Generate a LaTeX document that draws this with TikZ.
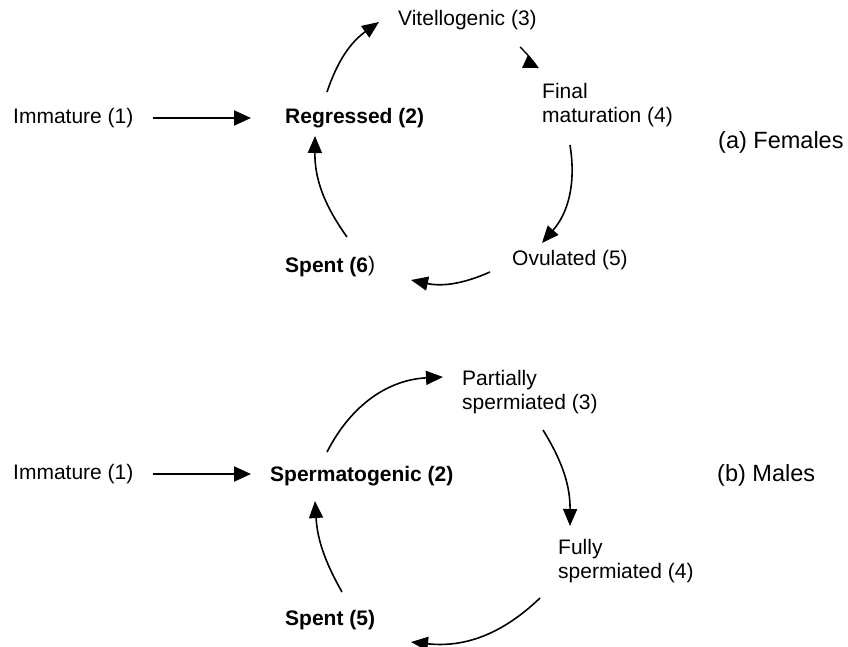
\documentclass[tikz,border=0pt]{standalone}
\usepackage{fontspec}
\setmainfont{Liberation Sans}
\usetikzlibrary{arrows.meta,calc}
\begin{document}
\begin{tikzpicture}[x=1pt,y=-1pt,
  lbl/.style={anchor=west,inner sep=0pt,font=\fontsize{21}{24}\selectfont,align=left},
  blbl/.style={lbl,font=\fontsize{21}{24}\selectfont\bfseries},
  glbl/.style={lbl,font=\fontsize{23.5}{27}\selectfont},
  conn/.style={line width=1.6pt,-{Triangle[length=17pt,width=14pt]}},
  sconn/.style={line width=2pt,-{Triangle[length=17pt,width=15pt]}}]
\useasboundingbox (0,0) rectangle (848,647);
% Females
\node[lbl] (imma) at (13,118) {Immature (1)};
\node[blbl] (reg) at (285,118) {Regressed (2)};
\node[lbl] (vit) at (398,20) {Vitellogenic (3)};
\node[lbl] (fin) at (542,105) {Final\\maturation (4)};
\node[lbl] (ovu) at (512,260) {Ovulated (5)};
\node[blbl] (spa) at (285,267) {Spent (6{\mdseries\raisebox{1pt}{)}}};
\node[glbl] (fem) at (718,142) {(a) Females};
\draw[sconn] ($(imma.west)+(140,0)$) -- ($(reg.west)+(-34,0)$);
\draw[conn] ($(reg.west)+(42,-26)$) to[bend left=18] ($(vit.west)+(-19,2)$);
\draw[line width=1.4pt] ($(vit.west)+(122,27)$) to[bend left=5] ($(fin.west)+(-4,-37)$);
\fill ($(fin.west)+(-20,-37)$) -- ($(fin.west)+(-4,-37)$) -- ($(fin.west)+(-14,-50)$) -- cycle;
\draw[conn] ($(fin.west)+(28,40)$) to[bend left=25] ($(ovu.west)+(30,-17)$);
\draw[conn] ($(ovu.west)+(-22,12)$) to[bend left=18] ($(spa.west)+(126,13)$);
\draw[conn] ($(spa.west)+(62,-30)$) to[bend left=18] ($(reg.west)+(30,18)$);
% Males
\node[lbl] (immb) at (13,474) {Immature (1)};
\node[blbl] (spg) at (270,476) {Spermatogenic (2)};
\node[lbl] (par) at (462,392) {Partially\\spermiated (3)};
\node[lbl] (ful) at (558,561) {Fully\\spermiated (4)};
\node[blbl] (spb) at (285,620) {Spent (5)};
\node[glbl] (mal) at (717,475) {(b) Males};
\draw[sconn] ($(immb.west)+(140,0)$) -- ($(spg.west)+(-19,-2)$);
\draw[conn] ($(spg.west)+(57,-24)$) to[bend left=30] ($(par.west)+(-19,-15)$);
\draw[conn] ($(par.west)+(81,38)$) to[bend left=16] ($(ful.west)+(12,-35)$);
\draw[conn] ($(ful.west)+(-18,37)$) to[bend left=25] ($(spb.west)+(126,22)$);
\draw[conn] ($(spb.west)+(57,-28)$) to[bend left=13] ($(spg.west)+(45,25)$);
\end{tikzpicture}
\end{document}
